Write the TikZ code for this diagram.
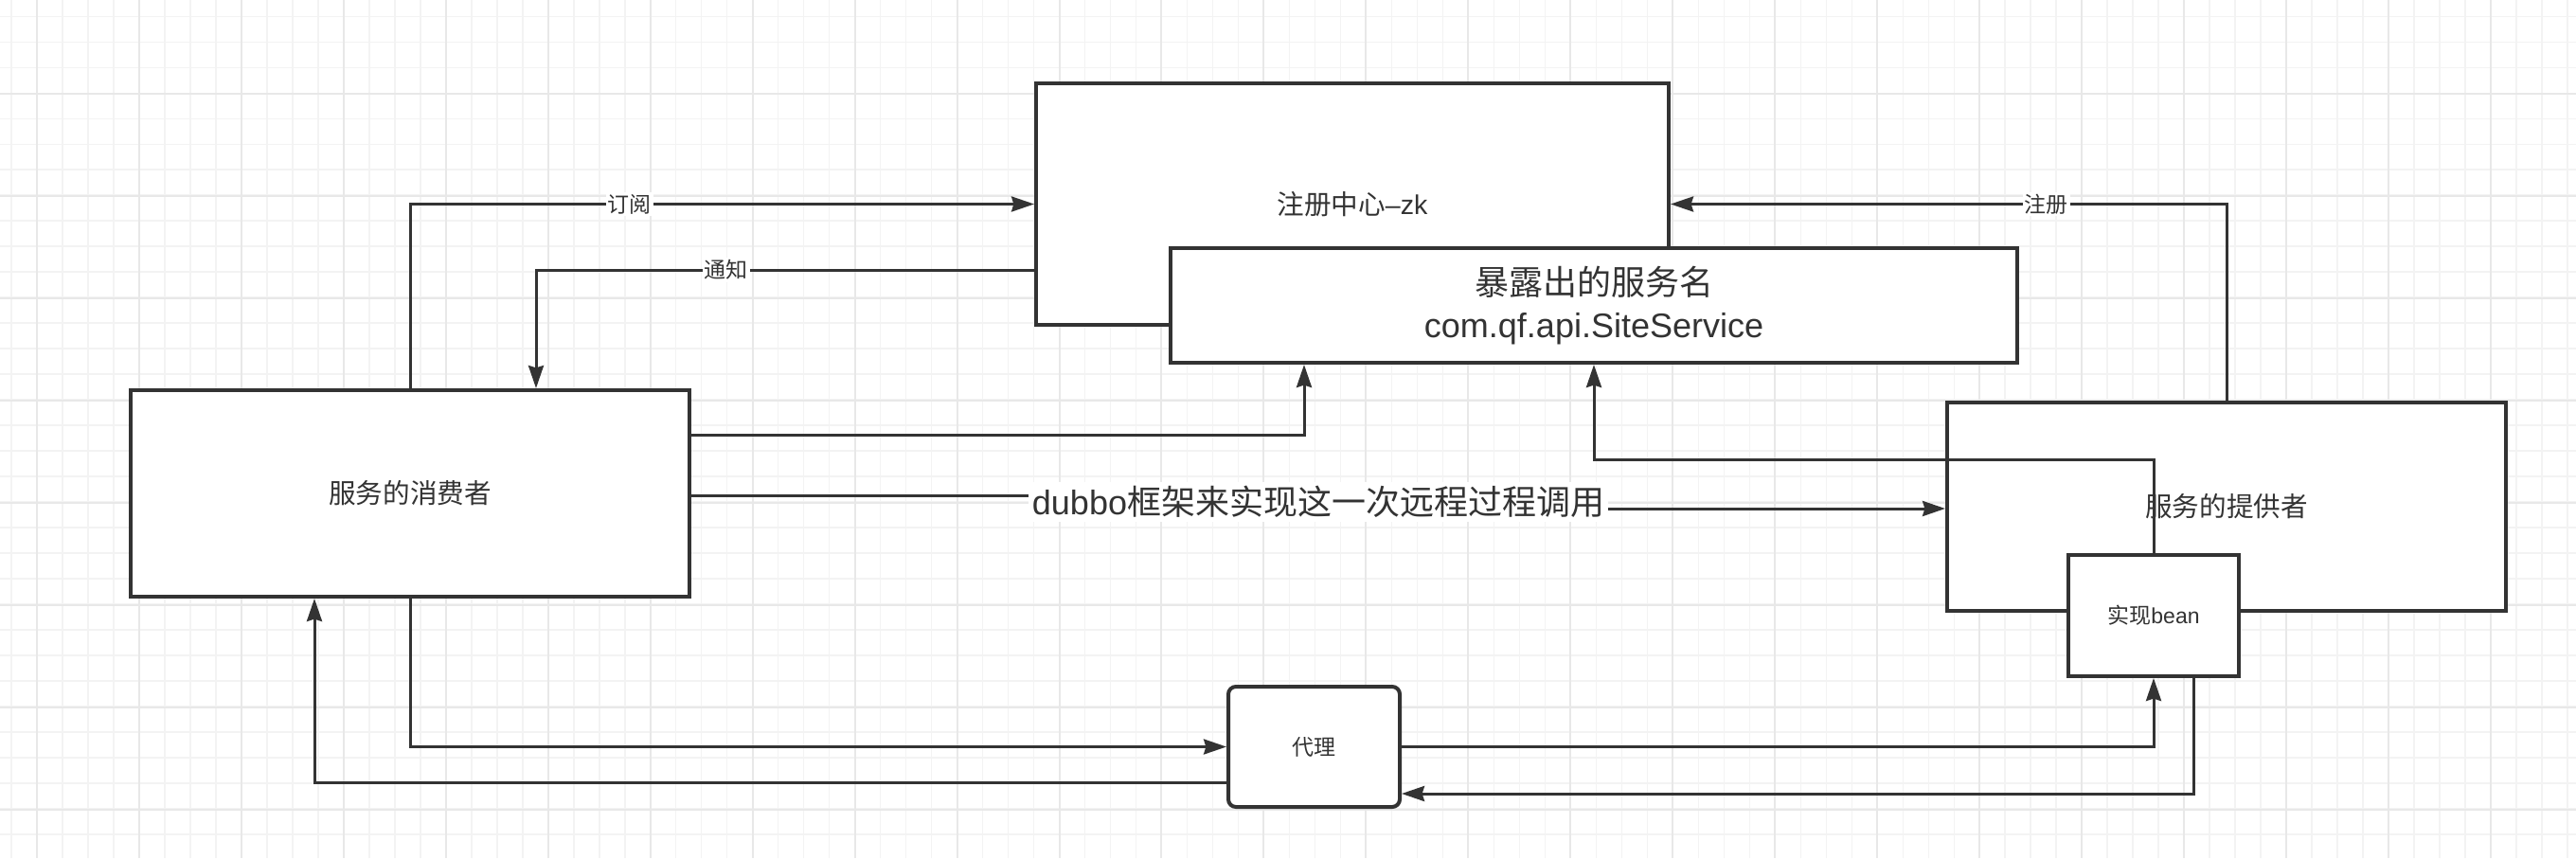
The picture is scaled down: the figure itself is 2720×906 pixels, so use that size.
\documentclass[tikz,border=0pt]{standalone}
\usepackage{fontspec}
\setmainfont{Noto Sans CJK SC}
\newfontfamily\lat{Liberation Sans}
\usetikzlibrary{arrows.meta,calc}
\definecolor{ink}{HTML}{333333}
\definecolor{gminor}{HTML}{F3F3F3}
\definecolor{gmajor}{HTML}{E8E8E8}
\begin{document}
\begin{tikzpicture}[x=0.5pt,y=-0.5pt,
  box/.style={draw=ink, line width=2pt, fill=white, text=ink, inner sep=0pt},
  conn/.style={draw=ink, line width=1.5pt, -{Stealth[length=12pt,width=8pt,inset=1.2pt]}},
  lbl/.style={fill=white, text=ink, font=\fontsize{11.5}{13}\selectfont, inner sep=1pt},
  mid/.style={font=\fontsize{14.3}{17}\selectfont},
  small/.style={font=\fontsize{11.5}{13}\selectfont},
  big/.style={font=\fontsize{18}{22.5}\selectfont}]
\useasboundingbox[fill=white] (0,0) rectangle (2720,906);
% grid
\begin{scope}
\clip (0,0) rectangle (2720,906);
\foreach \i in {0,...,100} \draw[gminor, line width=0.75pt] ({12+26.99*\i},0) -- ({12+26.99*\i},906);
\foreach \i in {0,...,32} \draw[gminor, line width=0.75pt] (0,{17.3+26.99*\i}) -- (2720,{17.3+26.99*\i});
\foreach \i in {0,...,24} \draw[gmajor, line width=1pt] ({39+107.95*\i},0) -- ({39+107.95*\i},906);
\foreach \i in {0,...,7} \draw[gmajor, line width=1pt] (0,{99+107.95*\i}) -- (2720,{99+107.95*\i});
\end{scope}
% boxes
\node[box, mid, minimum width=334pt, minimum height=127.5pt] (R) at (1428,215.5) {注册中心{\lat –zk}};
\node[box, big, minimum width=447pt, minimum height=60.5pt, align=center] (E) at (1683,322.5) {暴露出的服务名\\{\lat com.qf.api.SiteService}};
\node[box, mid, minimum width=295pt, minimum height=109pt] (C) at (433,521) {服务的消费者};
\node[box, mid, minimum width=295pt, minimum height=110pt] (P) at (2351,535) {服务的提供者};
\node[box, small, minimum width=90pt, minimum height=64pt] (B) at (2274,650) {实现{\lat bean}};
\node[box, small, rounded corners=4pt, minimum width=90.5pt, minimum height=63.5pt] (X) at (1387.5,788.5) {代理};
% connectors
\draw[conn] (C.north) |- node[lbl, pos=0.676] {订阅} (R.west);
\draw[conn] (R.west |- 0,285) -| node[lbl, pos=0.309] {通知} (C.north -| 566,0);
\draw[conn] (C.east |- 0,459) -| (E.south -| 1377,0);
\draw[conn] (C.east |- 0,523) -- (1392,523) -- node[fill=white, text=ink, big, inner sep=2pt] {{\lat dubbo}框架来实现这一次远程过程调用} (1392,537) -- (P.west |- 0,537);
\draw[conn] (P.north) |- node[lbl, pos=0.662] {注册} (R.east);
\draw[conn] (B.north) -- (B.north |- 0,485) -| (E.south);
\draw[conn] (C.south) |- (X.west);
\draw[conn] (X.west |- 0,826) -| (C.south -| 332,0);
\draw[conn] (X.east) -| (B.south);
\draw[conn] (B.south -| 2316,0) |- (X.east |- 0,838);
\end{tikzpicture}
\end{document}
